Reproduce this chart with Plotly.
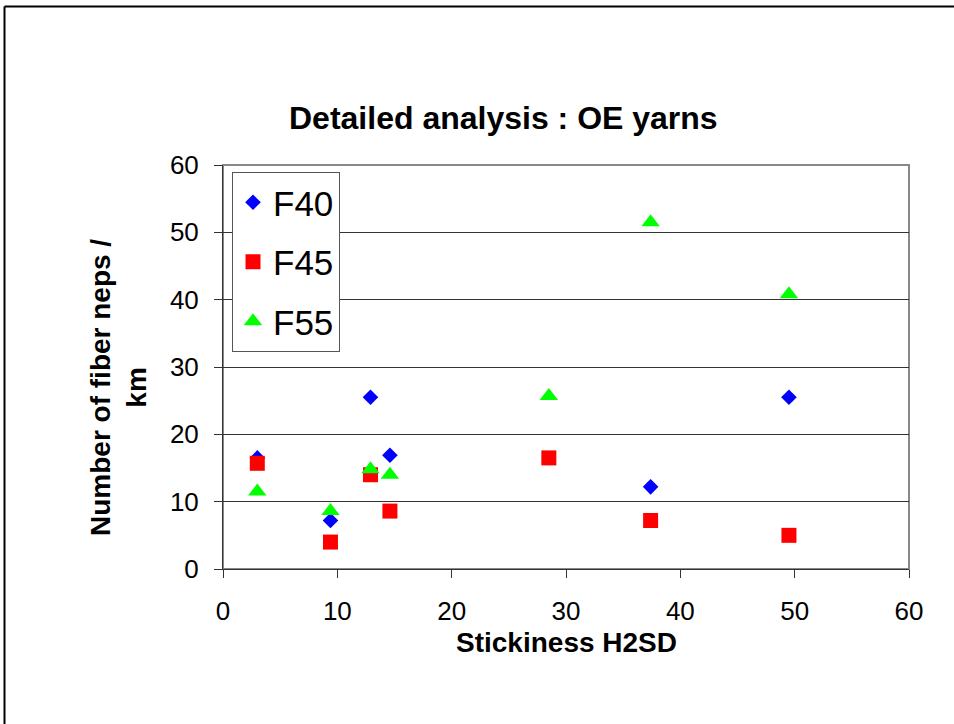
import plotly.graph_objects as go

# Data
stickiness = [3.0, 9.4, 12.9, 14.6, 28.5, 37.4, 49.5]
f40_x = [3.0, 9.4, 12.9, 14.6, 37.4, 49.5]
f40_y = [16.5, 7.2, 25.5, 16.9, 12.2, 25.5]
f45_y = [15.7, 4.0, 14.0, 8.6, 16.5, 7.2, 5.0]
f55_y = [11.5, 8.6, 14.8, 14.0, 25.7, 51.5, 40.8]

x_ticks = [0, 10, 20, 30, 40, 50, 60]
y_ticks = [0, 10, 20, 30, 40, 50, 60]

FONT = "Liberation Sans, Arial, sans-serif"
W, H = 954, 724
L, R, T, B = 223, 45, 165, 155
pw, ph = W - L - R, H - T - B


def px_x(p):
    return (p - L) / pw


def px_y(p):
    return (H - B - p) / ph


fig = go.Figure()
fig.add_trace(go.Scatter(x=f40_x, y=f40_y, mode="markers", name="F40", legendgroup="a",
                         marker=dict(symbol="diamond", size=12, color="#0000FF")))
fig.add_trace(go.Scatter(x=stickiness, y=f45_y, mode="markers", name="F45", legendgroup="b",
                         marker=dict(symbol="square", size=15, color="#FF0000")))
fig.add_trace(go.Scatter(x=stickiness, y=f55_y, mode="markers", name="F55", legendgroup="c",
                         marker=dict(symbol="triangle-up", size=16, color="#00FF00")))

fig.update_layout(
    width=W, height=H,
    margin=dict(l=L, r=R, t=T, b=B),
    paper_bgcolor="white", plot_bgcolor="white",
    font=dict(family=FONT, color="black"),
    showlegend=True,
    legend=dict(x=px_x(232), y=px_y(172), xanchor="left", yanchor="top",
                bgcolor="white", bordercolor="#555555", borderwidth=1,
                font=dict(size=35, family=FONT), tracegroupgap=11,
                traceorder="grouped"),
    xaxis=dict(range=[0, 60], tickvals=x_ticks, showgrid=False, zeroline=False,
               showline=True, linecolor="#333333", linewidth=1, mirror=False,
               ticks="outside", ticklen=8, tickcolor="#333333",
               tickfont=dict(size=26, family=FONT), ticklabelstandoff=11),
    yaxis=dict(range=[0, 60], tickvals=y_ticks, showgrid=True, gridcolor="#333333",
               gridwidth=1, zeroline=False,
               showline=True, linecolor="#333333", linewidth=1,
               ticks="outside", ticklen=8, tickcolor="#333333",
               tickfont=dict(size=26, family=FONT), ticklabelstandoff=10),
)

# Plot-area border (top and right, gray)
fig.add_shape(type="rect", xref="paper", yref="paper", x0=0, x1=1, y0=0, y1=1,
              line=dict(color="#888888", width=2), layer="below")

# Title and axis titles
fig.add_annotation(text="<b>Detailed analysis : OE yarns</b>", xref="paper", yref="paper",
                   x=px_x(503), y=px_y(118), xanchor="center", yanchor="middle",
                   showarrow=False, font=dict(size=32, family=FONT))
fig.add_annotation(text="<b>Stickiness H2SD</b>", xref="paper", yref="paper",
                   x=px_x(566), y=px_y(642), xanchor="center", yanchor="middle",
                   showarrow=False, font=dict(size=28, family=FONT))
fig.add_annotation(text="<b>Number of fiber neps /<br>km</b>", xref="paper", yref="paper",
                   x=px_x(118), y=px_y(388), xanchor="center", yanchor="middle",
                   textangle=-90, showarrow=False, font=dict(size=28, family=FONT))

# Outer frame (top and left visible)
fig.add_shape(type="line", xref="paper", yref="paper",
              x0=px_x(4.5), x1=px_x(954), y0=px_y(6.5), y1=px_y(6.5),
              line=dict(color="black", width=2))
fig.add_shape(type="line", xref="paper", yref="paper",
              x0=px_x(4.5), x1=px_x(4.5), y0=px_y(6.5), y1=px_y(724),
              line=dict(color="black", width=2))

fig.write_html("out.html")
